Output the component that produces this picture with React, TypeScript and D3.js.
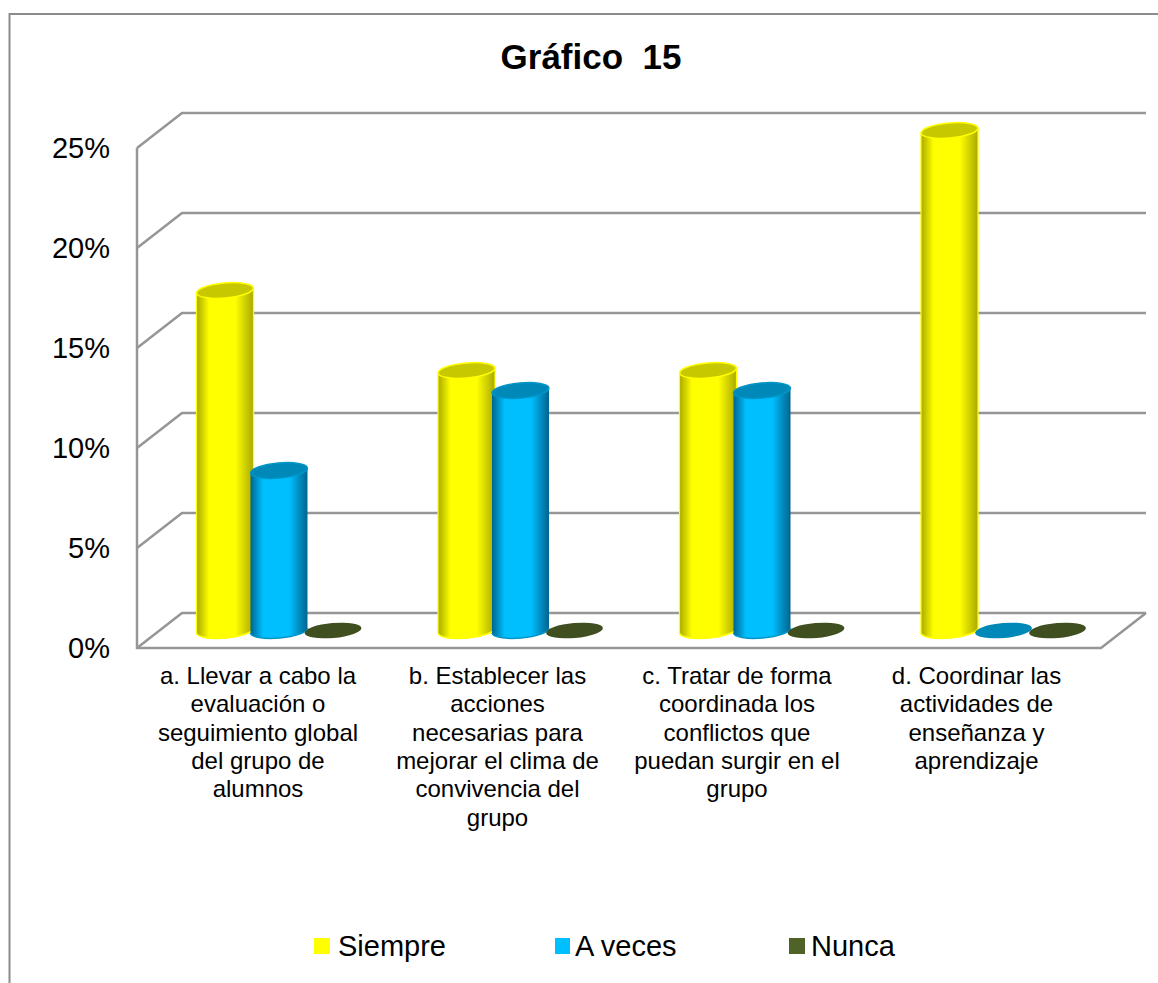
import React from "react";
import * as d3 from "d3";

const categories: string[][] = [
  ["a. Llevar a cabo la", "evaluación o", "seguimiento global", "del grupo de", "alumnos"],
  ["b. Establecer las", "acciones", "necesarias para", "mejorar el clima de", "convivencia del", "grupo"],
  ["c. Tratar de forma", "coordinada los", "conflictos que", "puedan surgir en el", "grupo"],
  ["d. Coordinar las", "actividades de", "enseñanza y", "aprendizaje"],
];
const seriesNames = ["Siempre", "A veces", "Nunca"];
const siempre = [17, 13, 13, 25];
const aVeces = [8, 12, 12, 0];
const nunca = [0, 0, 0, 0];
const tickValues = [0, 5, 10, 15, 20, 25];

const W = 1158;
const H = 983;
const FONT = "Liberation Sans, Arial, sans-serif";
const GRID = "#969696";

const palette = [
  { side: "#ffff00", dark: "#a9a900", top: "#c8c800", rim: "#ffff00" },
  { side: "#00bfff", dark: "#00648f", top: "#0089b8", rim: "#0095c8" },
  { side: "#4f6228", dark: "#3d4d1e", top: "#3f4f20", rim: "#4f6228" },
];

// Floor-to-wall depth offset of the 3D box.
const depthX = 45;
const depthY = -35;
const yFront = d3.scaleLinear().domain([0, 25]).range([648, 148]);
const yBar = d3.scaleLinear().domain([0, 25]).range([630.5, 130.5]);
const xFront = d3.scaleLinear().domain([0, 4]).range([137, 1101]);
const xGroup = d3.scaleBand<number>().domain([0, 1, 2]).range([0, 162]);
const xGroupStart = d3.scaleLinear().domain([0, 3]).range([197.5, 922]);
const xLabel = d3.scaleLinear().domain([0, 3]).range([258, 976.5]);

const R_X = 28.5;
const R_Y = 7.5;
const TILT = -5;

function Cylinder({ cx, value, s }: { cx: number; value: number; s: number }) {
  const c = palette[s];
  const top = yBar(value);
  const base = yBar(0);
  const lift = R_X * Math.sin((TILT * Math.PI) / 180);
  const body =
    `M${cx - R_X},${top - lift} L${cx + R_X},${top + lift} L${cx + R_X},${base + lift} ` +
    `A${R_X},${R_Y} ${TILT} 0 1 ${cx - R_X},${base - lift} Z`;
  return (
    <g>
      {value > 0 && (
        <path d={body} fill={`url(#side${s})`} stroke={s === 0 ? c.rim : "none"} strokeWidth={1.2} />
      )}
      {value > 0 && (
        <path
          d={`M${cx - R_X},${base - lift} A${R_X},${R_Y} ${TILT} 0 0 ${cx + R_X},${base + lift}`}
          fill="none"
          stroke={c.rim}
          strokeWidth={1.5}
        />
      )}
      <ellipse
        cx={cx}
        cy={top}
        rx={R_X}
        ry={R_Y}
        transform={`rotate(${TILT} ${cx} ${top})`}
        fill={c.top}
        stroke={value > 0 ? c.rim : "none"}
        strokeWidth={1.5}
      />
    </g>
  );
}

export default function App() {
  const values = [siempre, aVeces, nunca];
  const legendX = [314, 555, 789];
  const legendTextX = [338, 575, 811];
  return (
    <svg
      width={W}
      height={H}
      viewBox={`0 0 ${W} ${H}`}
      style={{ position: "absolute", left: 0, top: 0, background: "#fff" }}
      fontFamily={FONT}
    >
      <defs>
        {palette.map((c, i) => (
          <linearGradient key={i} id={`side${i}`} x1="0" x2="1" y1="0" y2="0">
            <stop offset="0" stopColor={c.dark} />
            <stop offset="0.22" stopColor={c.side} />
            <stop offset="0.68" stopColor={c.side} />
            <stop offset="1" stopColor={c.dark} />
          </linearGradient>
        ))}
      </defs>

      {/* chart area outline */}
      <path d="M9.5,983 V14 H1158" fill="none" stroke="#8c8c8c" strokeWidth={2} />

      <text x={591} y={69} textAnchor="middle" fontSize={35} fontWeight={700} fill="#000" xmlSpace="preserve">
        Gráfico  15
      </text>

      {/* gridlines on the side wall and the back wall */}
      {tickValues.map((v) => (
        <path
          key={v}
          d={`M${xFront(0)},${yFront(v)} L${xFront(0) + depthX},${yFront(v) + depthY} H${xFront(4) + depthX}`}
          fill="none"
          stroke={GRID}
          strokeWidth={2.5}
        />
      ))}
      {/* front axis edges */}
      <path
        d={`M${xFront(0)},${yFront(25)} V${yFront(0)} H${xFront(4)} L${xFront(4) + depthX},${yFront(0) + depthY}`}
        fill="none"
        stroke={GRID}
        strokeWidth={2.5}
      />

      {tickValues.map((v) => (
        <text key={v} x={110} y={yFront(v) + 10} textAnchor="end" fontSize={29} fill="#000">
          {v}%
        </text>
      ))}

      {categories.map((_, i) => (
        <g key={i}>
          {values.map((vals, s) => (
            <Cylinder key={s} s={s} value={vals[i]} cx={xGroupStart(i) + xGroup(s)! + 27.5} />
          ))}
        </g>
      ))}

      {categories.map((lines, i) => (
        <text key={i} textAnchor="middle" fontSize={24} fill="#000">
          {lines.map((line, j) => (
            <tspan key={j} x={xLabel(i)} y={684 + j * 28.3}>
              {line}
            </tspan>
          ))}
        </text>
      ))}

      {seriesNames.map((name, i) => (
        <g key={name}>
          <rect x={legendX[i]} y={938} width={i === 1 ? 15 : 16} height={16} fill={palette[i].side} />
          <text x={legendTextX[i]} y={956} fontSize={29} fill="#000">
            {name}
          </text>
        </g>
      ))}
    </svg>
  );
}
